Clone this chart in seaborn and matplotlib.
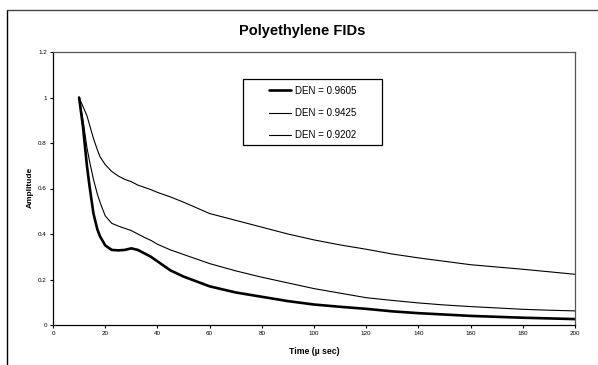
import numpy as np
import pandas as pd
import matplotlib
matplotlib.use("Agg")
import matplotlib.pyplot as plt
import seaborn as sns
from matplotlib.lines import Line2D
from matplotlib.patches import Rectangle

# time axis (micro seconds)
time_us = [10, 11.5, 13, 14, 15.5, 17, 18, 20, 22.5, 25, 27.5, 30, 32.5, 35, 37.5,
           40, 45, 50, 60, 70, 80, 90, 100, 110, 120, 130, 140, 150, 160, 170,
           180, 190, 200]

# amplitudes
den_9605 = [1.0, 0.87, 0.70, 0.61, 0.49, 0.42, 0.39, 0.35, 0.33, 0.328, 0.33, 0.337,
            0.33, 0.315, 0.30, 0.28, 0.24, 0.213, 0.17, 0.143, 0.124, 0.105, 0.09,
            0.08, 0.071, 0.06, 0.052, 0.046, 0.04, 0.036, 0.032, 0.029, 0.026]
den_9425 = [1.0, 0.9, 0.78, 0.72, 0.64, 0.575, 0.54, 0.48, 0.447, 0.435, 0.425, 0.415,
            0.40, 0.385, 0.372, 0.355, 0.33, 0.31, 0.27, 0.238, 0.21, 0.185, 0.16,
            0.14, 0.12, 0.108, 0.097, 0.088, 0.081, 0.075, 0.069, 0.065, 0.062]
den_9202 = [1.0, 0.96, 0.92, 0.88, 0.82, 0.77, 0.74, 0.705, 0.675, 0.655, 0.64, 0.63,
            0.615, 0.605, 0.595, 0.583, 0.563, 0.54, 0.49, 0.46, 0.43, 0.40, 0.374,
            0.352, 0.333, 0.312, 0.295, 0.28, 0.265, 0.255, 0.245, 0.234, 0.223]

labels = ["DEN = 0.9605", "DEN = 0.9425", "DEN = 0.9202"]
widths = [1.9, 0.8, 0.8]

x_ticks = list(range(0, 201, 20))
y_ticks = [0, 0.2, 0.4, 0.6, 0.8, 1.0, 1.2]
y_tick_labels = ["0", "0.2", "0.4", "0.6", "0.8", "1", "1.2"]

df = pd.DataFrame({"time": time_us * 3,
                   "amp": den_9605 + den_9425 + den_9202,
                   "series": sum([[l] * len(time_us) for l in labels], [])})

sns.set_style("white")
plt.rcParams["font.family"] = ["Liberation Sans", "DejaVu Sans"]
plt.rcParams["text.color"] = "black"
plt.rcParams["xtick.color"] = "black"
plt.rcParams["ytick.color"] = "black"

W, H = 598, 365
fig = plt.figure(figsize=(5.98, 3.65), dpi=100)
ax = fig.add_axes([53 / W, 1 - 325 / H, 522 / W, 273 / H])

for lab, lw in zip(labels, widths):
    sub = df[df["series"] == lab]
    sns.lineplot(data=sub, x="time", y="amp", ax=ax, color="black", linewidth=lw,
                 label=lab, estimator=None, sort=False)

ax.set_xlim(0, 200)
ax.set_ylim(0, 1.2)
ax.set_xticks(x_ticks)
ax.set_xticklabels([str(t) for t in x_ticks])
ax.set_yticks(y_ticks)
ax.set_yticklabels(y_tick_labels)
ax.tick_params(axis="both", labelsize=4.5, length=2.5, width=0.8, direction="out",
               color="black", pad=2, bottom=True, left=True)
for s in ax.spines.values():
    s.set_color("black")
    s.set_linewidth(0.9)
ax.spines["top"].set_color("#555555")
ax.spines["right"].set_color("#555555")

ax.set_xlabel("")
ax.set_ylabel("")
fig.text(314 / W, 1 - 351 / H, "Time (\u00b5 sec)", ha="center", va="center",
         fontsize=6.3, fontweight="bold")
fig.text(30 / W, 1 - 187 / H, "Amplitude", ha="center", va="center",
         fontsize=6, fontweight="bold", rotation=90)
fig.text(302 / W, 1 - 31 / H, "Polyethylene FIDs", ha="center", va="center",
         fontsize=10.5, fontweight="bold")

# legend entries without frame, box drawn separately (Excel style)
leg = ax.legend(loc="center", bbox_to_anchor=(312.5 / W, 1 - 113 / H),
                bbox_transform=fig.transFigure, fontsize=7, frameon=False,
                labelspacing=1.25, handlelength=2.3, handletextpad=0.35,
                borderpad=0, borderaxespad=0)
for t in leg.get_texts():
    t.set_color("black")
fig.add_artist(Rectangle((243 / W, 1 - 145 / H), 139 / W, 66 / H,
                         transform=fig.transFigure, fill=False,
                         edgecolor="black", linewidth=0.9))

# outer chart border (cropped at right and bottom)
fig.add_artist(Line2D([7 / W, 7 / W], [1 - 10 / H, -0.05], transform=fig.transFigure,
                      color="black", linewidth=1.0))
fig.add_artist(Line2D([7 / W, 1.05], [1 - 10 / H, 1 - 10 / H], transform=fig.transFigure,
                      color="#444444", linewidth=1.0))

fig.savefig("out.png", dpi=100, facecolor="white")
